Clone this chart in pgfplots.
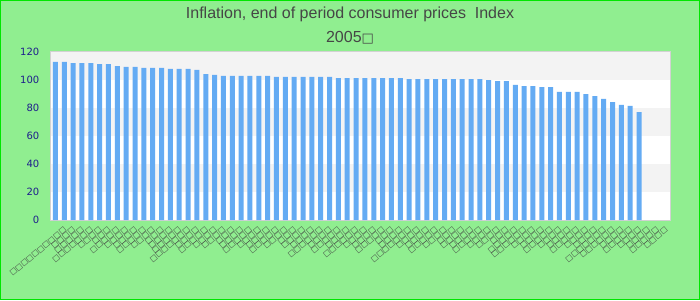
\documentclass[border=0pt]{standalone}
\usepackage{pgfplots}
\pgfplotsset{compat=1.18}
\usetikzlibrary{backgrounds,calc}
\usepackage{fontspec}
\setmainfont{Liberation Sans}
\newfontfamily\dejavu{DejaVu Sans}
\definecolor{bg}{RGB}{144,238,144}
\definecolor{frame}{RGB}{0,230,0}
\definecolor{band}{RGB}{243,243,243}
\definecolor{barc}{RGB}{100,171,243}
\definecolor{titlec}{RGB}{70,70,70}
\definecolor{tickc}{RGB}{30,30,140}
\definecolor{axisc}{RGB}{210,210,210}
\def\q{□}
\pgfplotstableread{
x y
0 112.7
1 112.7
2 111.9
3 111.9
4 111.9
5 111.2
6 111.2
7 109.8
8 109.1
9 109.1
10 108.4
11 108.4
12 108.4
13 107.7
14 107.7
15 107.7
16 107.0
17 104.1
18 103.4
19 102.7
20 102.7
21 102.7
22 102.7
23 102.7
24 102.7
25 102.0
26 102.0
27 102.0
28 102.0
29 102.0
30 102.0
31 102.0
32 101.2
33 101.2
34 101.2
35 101.2
36 101.2
37 101.2
38 101.2
39 101.2
40 100.5
41 100.5
42 100.5
43 100.5
44 100.5
45 100.5
46 100.5
47 100.5
48 100.5
49 99.8
50 99.1
51 99.1
52 96.3
53 95.5
54 95.5
55 94.8
56 94.8
57 91.3
58 91.3
59 91.3
60 89.8
61 88.4
62 86.3
63 84.1
64 82.0
65 81.3
66 77.0
}\datatable
\begin{document}
\begin{tikzpicture}[x=1pt,y=1pt]
\begin{axis}[
  name=ax,
  width=619pt, height=168.3pt, scale only axis,
  xmin=-0.5, xmax=69.5, ymin=0, ymax=120,
  ytick={0,20,...,120},
  xtick={0,...,68},
  xticklabels={\q\q\q\q\q\q\q\q\q\q,\q\q\q\q,\q\q\q\q\q,\q\q\q\q\q\q\q,\q\q\q\q,\q\q\q,\q\q\q\q\q,\q\q\q\q,\q\q\q\q,\q\q\q\q\q,
   \q\q\q\q,\q\q\q,\q\q\q\q,\q\q\q\q\q,\q\q\q\q\q\q\q,\q\q\q\q,\q\q\q\q\q,\q\q\q\q,\q\q\q\q,\q\q\q,
   \q\q\q\q,\q\q\q\q\q,\q\q\q\q,\q\q\q\q,\q\q\q\q\q,\q\q\q\q,\q\q\q,\q\q\q\q,\q\q\q\q,\q\q\q\q\q\q,
   \q\q\q\q,\q\q\q\q\q,\q\q\q\q,\q\q\q\q\q\q,\q\q\q\q,\q\q\q\q,\q\q\q\q\q,\q\q\q,\q\q\q\q,\q\q\q\q\q\q\q,
   \q\q\q\q,\q\q\q\q,\q\q\q\q\q,\q\q\q\q,\q\q\q,\q\q\q\q,\q\q\q\q,\q\q\q\q\q,\q\q\q\q,\q\q\q\q,
   \q\q\q,\q\q\q\q\q,\q\q\q\q\q\q,\q\q\q\q,\q\q\q\q,\q\q\q\q\q,\q\q\q\q,\q\q\q\q,\q\q\q\q\q,\q\q\q\q,
   \q\q\q\q,\q\q\q\q\q\q\q,\q\q\q\q\q\q,\q\q\q\q,\q\q\q\q\q,\q\q\q\q,\q\q\q\q,\q\q\q\q\q,\q\q\q\q},
  major tick length=0pt,
  axis line style={draw=axisc, line width=1pt},
  axis background/.style={fill=white},
  /pgf/number format/assume math mode=true,
  yticklabel style={font=\dejavu\fontsize{10}{12}\selectfont, text=tickc, inner sep=0pt, anchor=east, xshift=-11.5pt},
  xticklabel style={font=\dejavu\fontsize{7.5}{8}\selectfont, text=black!75, rotate=40, anchor=north east, inner sep=0pt, yshift=-10pt, xshift=2pt},
  clip=false,
]
\coordinate (O) at (rel axis cs:0,0);
\fill[band] (axis cs:-0.5,100) rectangle (axis cs:69.5,120);
\fill[band] (axis cs:-0.5,60) rectangle (axis cs:69.5,80);
\fill[band] (axis cs:-0.5,20) rectangle (axis cs:69.5,40);
\addplot[ybar, bar width=5pt, fill=barc, draw=none, bar shift=0pt] table[x=x,y=y] {\datatable};
\end{axis}
\begin{pgfonlayer}{background}
\fill[bg] ($(O)+(-51,-80)$) rectangle ++(700,300);
\draw[frame, line width=1pt] ($(O)+(-50.5,-79.5)$) rectangle ++(699,299);
\end{pgfonlayer}
\node[anchor=base, inner sep=0pt, font=\fontsize{16}{18}\selectfont, text=titlec] at ($(O)+(299,201.7)$) {Inflation, end of period consumer prices\ \ Index};
\node[anchor=base, inner sep=0pt, font=\fontsize{16}{18}\selectfont, text=titlec] at ($(O)+(299,177.3)$) {2005{\dejavu\fontsize{13}{15}\selectfont□}};
\pgfresetboundingbox
\path[use as bounding box] ($(O)+(-51,-80)$) rectangle ++(700,300);
\end{tikzpicture}
\end{document}
